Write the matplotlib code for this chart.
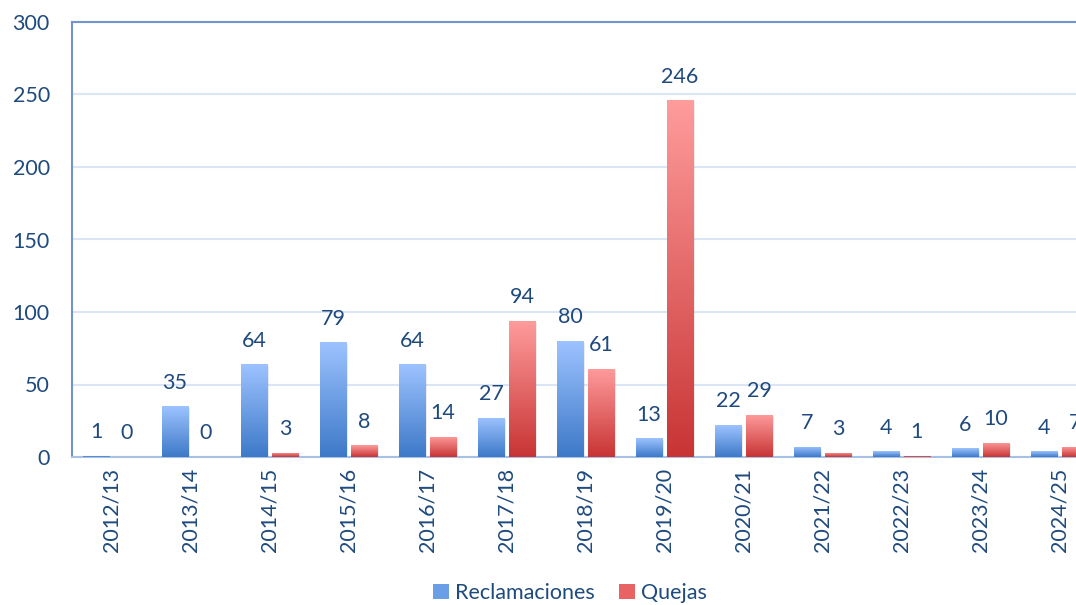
import numpy as np
import matplotlib
matplotlib.use("Agg")
import matplotlib.pyplot as plt
from matplotlib.colors import LinearSegmentedColormap
from matplotlib.patches import Patch

plt.rcParams['font.family'] = ['Lato', 'DejaVu Sans']

seasons = ['2012/13', '2013/14', '2014/15', '2015/16', '2016/17', '2017/18', '2018/19',
           '2019/20', '2020/21', '2021/22', '2022/23', '2023/24', '2024/25']
reclamaciones = [1, 35, 64, 79, 64, 27, 80, 13, 22, 7, 4, 6, 4]
quejas = [0, 0, 3, 8, 14, 94, 61, 246, 29, 3, 1, 10, 7]

text_color = '#1F4A7E'
blue_cmap = LinearSegmentedColormap.from_list('b', ['#3D79C8', '#9DC3FF'])
red_cmap = LinearSegmentedColormap.from_list('r', ['#C83434', '#FF9C9C'])

fig = plt.figure(figsize=(10.76, 6.05), dpi=100)
# axes runs a bit past the right edge, as in the original
ax = fig.add_axes([72 / 1076, 148 / 605, (1099 - 72) / 1076, 435 / 605])

x = np.arange(len(seasons))
w = 0.33
off = 0.196
grad = np.linspace(0, 1, 256).reshape(-1, 1)


def gradient_bars(xs, vals, cmap):
    bars = ax.bar(xs, vals, width=w, color='none', edgecolor='none', zorder=3)
    for b, v in zip(bars, vals):
        if v <= 0:
            continue
        x0 = b.get_x()
        # soft shadow on the right
        ax.bar(x0 + w / 2 + 0.025, v, width=w, bottom=-1.2, color='#000000', alpha=0.08,
               edgecolor='none', zorder=2)
        im = ax.imshow(grad, cmap=cmap, aspect='auto', origin='lower',
                       extent=(x0, x0 + w, 0, v), zorder=3)
        im.set_clip_path(b)
    for xi, v in zip(xs, vals):
        ax.annotate(str(v), (xi, v), xytext=(0, 17), textcoords='offset points',
                    ha='center', va='center', fontsize=15.5, color=text_color)


gradient_bars(x - off, reclamaciones, blue_cmap)
gradient_bars(x + off, quejas, red_cmap)

ax.set_xlim(-0.5, len(seasons) - 0.5)
ax.set_ylim(0, 300)
ax.set_yticks(range(0, 301, 50))
ax.set_xticks(x)
ax.set_xticklabels(seasons, rotation=90)
ax.yaxis.grid(True, color='#DAE5F5', linewidth=1.5, zorder=0)
ax.set_axisbelow(True)

ax.spines['right'].set_visible(False)
ax.spines['left'].set_color('#6F95CC')
ax.spines['left'].set_linewidth(1.5)
ax.spines['top'].set_color('#6F95CC')
ax.spines['top'].set_linewidth(1.5)
ax.spines['bottom'].set_color('#A8C0E4')
ax.spines['bottom'].set_linewidth(1.5)

ax.tick_params(axis='y', length=0, pad=16, labelsize=15.5, labelcolor=text_color)
ax.tick_params(axis='x', length=0, pad=8, labelsize=15.5, labelcolor=text_color)

handles = [Patch(facecolor='#6A9EE6', label='Reclamaciones'),
           Patch(facecolor='#E86464', label='Quejas')]
fig.legend(handles=handles, loc='center', bbox_to_anchor=(570 / 1076, 1 - 593 / 605),
           ncol=2, frameon=False, fontsize=15.5, handlelength=0.75, handleheight=0.75,
           handletextpad=0.3, columnspacing=1.1, labelcolor=text_color)

fig.savefig('out.png', dpi=100)
